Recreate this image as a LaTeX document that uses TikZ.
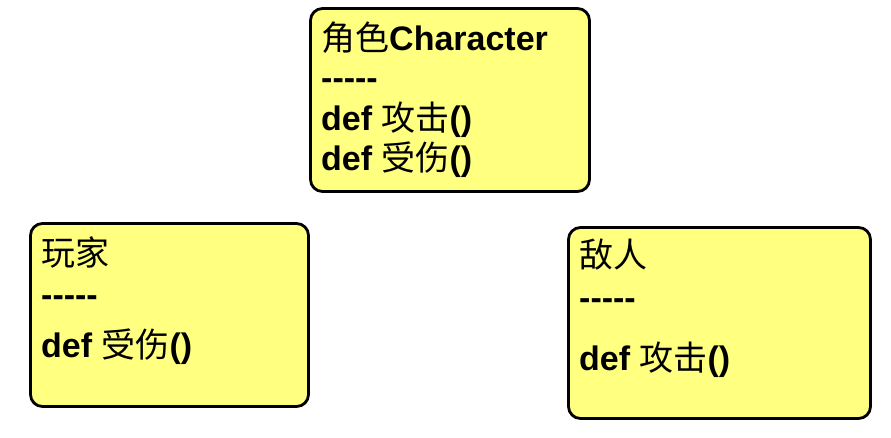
\documentclass[tikz,border=0pt]{standalone}
\usepackage{fontspec}
\setmainfont{Liberation Sans}
\newfontfamily\cjk{Noto Sans CJK SC}
\newcommand{\zh}[1]{{\mdseries\cjk #1}}
\definecolor{notey}{RGB}{255,255,128}
\begin{document}
\begin{tikzpicture}[x=1pt, y=-1pt,
  cls/.style={draw, line width=2.8pt, rounded corners=12pt, fill=notey},
  ln/.style={anchor=base west, inner sep=0pt, font=\fontsize{34}{38}\selectfont\bfseries}]
\useasboundingbox (0,0) rectangle (891,437);
% base class
\node[cls, minimum width=279, minimum height=183] (chr) at (450, 100) {};
\node[ln] (chrname) at (321, 50)  {\zh{角色}Character};
\node[ln] (chrsep)  at (321, 89)  {-{}-{}-{}-{}-};
\node[ln] (chratk)  at (321, 130) {def \zh{攻击}()};
\node[ln] (chrhit)  at (321, 170) {def \zh{受伤}()};
% player
\node[cls, minimum width=278, minimum height=183] (ply) at (169.5, 315) {};
\node[ln] (plyname) at (41, 265) {\zh{玩家}};
\node[ln] (plysep)  at (41, 306) {-{}-{}-{}-{}-};
\node[ln] (plyhit)  at (41, 357) {def \zh{受伤}()};
% enemy
\node[cls, minimum width=302, minimum height=191] (eny) at (719.5, 323) {};
\node[ln] (enyname) at (579, 267) {\zh{敌人}};
\node[ln] (enysep)  at (579, 309) {-{}-{}-{}-{}-};
\node[ln] (enyatk)  at (579, 370) {def \zh{攻击}()};
\end{tikzpicture}
\end{document}
